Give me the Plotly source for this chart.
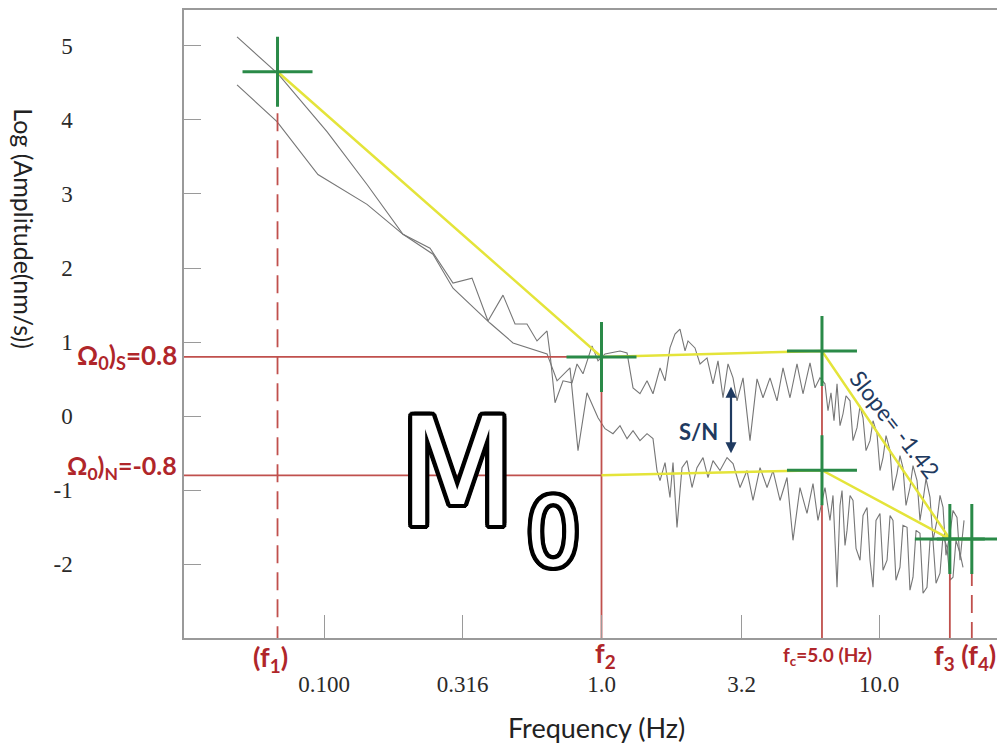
import plotly.graph_objects as go

# ---------------- data ----------------
# Signal spectrum (upper gray curve): frequency (Hz) and log amplitude
sig_freq = [0.0486, 0.0683, 0.1025, 0.1429, 0.1926, 0.2410, 0.2917, 0.3415, 0.3899, 0.4416,
            0.4880, 0.5388, 0.5855, 0.6364, 0.6524, 0.6801, 0.7267, 0.7829, 0.8161, 0.8577,
            0.9243, 0.9714, 1.0295, 1.166, 1.236, 1.299, 1.376, 1.459, 1.533, 1.625,
            1.694, 1.765, 1.840, 1.918, 2.000, 2.050, 2.172, 2.265, 2.400, 2.522,
            2.629, 2.741, 2.857, 2.978, 3.079, 3.236, 3.429, 3.634, 3.819, 4.048,
            4.290, 4.509, 4.778, 5.064, 5.322, 5.641, 5.880, 6.128,
            6.387, 6.549, 6.714, 6.884, 7.059, 7.236, 7.418, 7.605, 7.862, 8.060,
            8.333, 8.543, 8.758, 8.979, 9.281, 9.515, 9.835, 10.08, 10.34, 10.60,
            10.96, 11.23, 11.61, 11.90, 12.20, 12.51, 12.93, 13.26, 13.71, 14.05,
            14.41, 14.77, 15.27, 15.65, 16.18, 16.59, 17.01, 17.43, 18.03, 18.48,
            19.10, 19.59, 19.91, 20.25]
sig_amp = [5.121, 4.622, 3.841, 3.128, 2.455, 2.267, 1.796, 1.863, 1.284, 1.634,
           1.244, 1.244, 1.015, 1.150, 0.840, 0.180, 0.477, 0.450, 0.705, 0.571,
           0.948, 0.746, 0.840, 0.880, 0.853, 0.382, 0.302, 0.477, 0.302, 0.652,
           0.477, 0.921, 1.109, 1.176, 0.880, 1.015, 0.921, 0.705, 0.786, 0.436,
           0.746, 0.248, 0.705, 0.517, 0.207, 0.517, -0.331, 0.503, 0.248, 0.517,
           0.207, 0.652, 0.248, 0.705, 0.302, 0.719, 0.382, 0.517,
           0.436, 0.073, 0.315, -0.062, 0.436, -0.129, 0.032, 0.275, 0.207, -0.331,
           -0.156, 0.140, -0.022, -0.466, -0.331, -0.062, -0.237, -0.735, -0.560, -0.264,
           -0.466, -1.005, -0.775, -0.533, -0.695, -1.206, -0.964, -0.668, -0.870, -1.408,
           -1.139, -0.843, -1.098, -1.677, -1.408, -1.071, -1.233, -1.879, -1.583, -1.273,
           -1.368, -1.946, -1.677, -1.408]

# Noise spectrum (lower gray curve)
noise_freq = [0.0486, 0.0677, 0.0951, 0.1429, 0.1926, 0.2471, 0.2917, 0.3964, 0.4799, 0.5664,
              0.6364, 0.6915, 0.7700, 0.8229, 0.8864, 0.9714, 1.0295, 1.100, 1.166, 1.236,
              1.299, 1.376, 1.459, 1.533, 1.585, 1.625, 1.694, 1.765, 1.810, 1.871,
              1.950, 2.033, 2.119, 2.208, 2.322, 2.420, 2.522, 2.673, 2.834, 2.978,
              3.157, 3.345, 3.515, 3.726, 3.949, 4.150, 4.398, 4.661, 4.898, 5.191,
              5.501, 5.783, 6.027, 6.387,
              6.658, 6.827, 7.059, 7.236, 7.357, 7.542, 7.669, 7.862, 8.060, 8.264,
              8.543, 8.758, 9.053, 9.281, 9.515, 9.754, 10.08, 10.34, 10.69, 10.96,
              11.23, 11.51, 11.90, 12.20, 12.62, 12.93, 13.26, 13.60, 14.05, 14.41,
              14.89, 15.27, 15.65, 16.05, 16.59, 17.01, 17.58, 18.03, 18.48, 18.94,
              19.59, 20.08]
noise_amp = [4.474, 3.976, 3.263, 2.859, 2.455, 2.186, 1.728, 1.257, 0.988, 0.907,
             0.840, 0.477, 0.652, -0.466, 0.315, -0.022, -0.170, -0.237, -0.129, -0.304,
             -0.197, -0.331, -0.237, -0.304, -0.735, -0.870, -0.627, -1.098, -0.627, -1.502,
             -0.695, -0.600, -0.964, -0.695, -0.560, -0.829, -0.600, -0.735, -0.560, -0.641,
             -0.964, -0.735, -1.139, -0.695, -0.964, -0.735, -1.139, -0.829, -1.677, -0.964,
             -1.314, -0.910, -1.408, -0.964,
             -1.408, -1.071, -2.310, -1.206, -1.005, -1.745, -1.543, -1.071, -1.139, -1.785,
             -1.946, -1.341, -1.233, -1.946, -2.310, -1.408, -1.314, -2.081, -1.946, -1.341,
             -1.408, -2.216, -2.041, -1.475, -1.502, -2.350, -2.175, -1.543, -1.583, -2.391,
             -2.310, -1.677, -1.677, -2.256, -2.121, -1.610, -1.771, -2.216, -2.175, -1.677,
             -1.852, -2.041]

# Axis ticks
xtick_vals = [0.1, 0.316, 1.0, 3.2, 10.0]
xtick_text = ["0.100", "0.316", "1.0", "3.2", "10.0"]
ytick_vals = [-2, -1, 0, 1, 2, 3, 4, 5]
ytick_text = ["-2", "-1", "0", "1", "2", "3", "4", "5"]

# Corner frequencies (Hz) and spectral levels (log amplitude)
f1, f2, fc, f3, f4 = 0.068, 1.0, 6.23, 18.0, 21.6
omega_s = 0.8
omega_n = -0.8
sig_fit_freq = [f1, f2, fc, f3, f4]
sig_fit_amp = [4.65, 0.8, 0.88, -1.66, -1.66]
noise_fit_freq = [f2, fc, f3]
noise_fit_amp = [-0.8, -0.73, -1.66]
cross_freq = [f1, f2, fc, fc, f3, f4]
cross_amp = [4.65, 0.8, 0.88, -0.73, -1.66, -1.66]
# tops of the red marker lines below the crosses
vline_freq = [f1, f2, fc, f3, f4]
vline_top = [4.09, 0.42, 0.42, -2.0, -2.05]
vline_dash = ["dash", "solid", "solid", "solid", "dash"]

# axis ranges (log10 Hz / log amplitude)
x_log_range = [-1.5045, 1.4288]
y_range = [-2.996, 5.484]

# ---------------- figure ----------------
GRAY = "#767676"
RED = "#c0504d"
RED_TXT = "#b0262a"
YEL = "#e4e43a"
GRN = "#2a8a48"
NAVY = "#1f3a60"
SANS = "Lato, 'Open Sans', sans-serif"

fig = go.Figure()

fig.add_trace(go.Scatter(x=sig_freq, y=sig_amp, mode="lines",
                         line=dict(color=GRAY, width=1.1)))
fig.add_trace(go.Scatter(x=noise_freq, y=noise_amp, mode="lines",
                         line=dict(color=GRAY, width=1.1)))

xmin_hz = 10 ** x_log_range[0]
# horizontal red level lines
for lvl in (omega_s, omega_n):
    fig.add_trace(go.Scatter(x=[xmin_hz, f2], y=[lvl, lvl], mode="lines",
                             line=dict(color=RED, width=1.6)))
# vertical red lines
for fx, top, dsh in zip(vline_freq, vline_top, vline_dash):
    fig.add_trace(go.Scatter(x=[fx, fx], y=[top, y_range[0]], mode="lines",
                             line=dict(color=RED, width=1.8,
                                       dash="18px,9px" if dsh == "dash" else "solid")))

# yellow fits
fig.add_trace(go.Scatter(x=sig_fit_freq, y=sig_fit_amp, mode="lines",
                         line=dict(color=YEL, width=2.5)))
fig.add_trace(go.Scatter(x=noise_fit_freq, y=noise_fit_amp, mode="lines",
                         line=dict(color=YEL, width=2.5)))

# green crosses
fig.add_trace(go.Scatter(x=cross_freq, y=cross_amp, mode="markers",
                         marker=dict(symbol="cross-thin", size=50,
                                     line=dict(color=GRN, width=3))))


def P(px, py):
    return (px - 184) / 814, (638 - py) / 630


annos = []


def txt(text, px, py, size, color, family=SANS, xanchor="center", angle=0, bold=False, **kw):
    x, y = P(px, py)
    annos.append(dict(text=text, x=x, y=y, xref="paper", yref="paper", showarrow=False,
                      xanchor=xanchor, yanchor="middle", textangle=angle,
                      font=dict(family=family, size=size, color=color,
                                weight="bold" if bold else "normal", **kw)))


# axis titles
txt("Frequency (Hz)", 596, 728, 27, "#222222")
txt("Log (Amplitude(nm/s))", 24, 227, 25, "#222222", angle=90)

# level labels
txt("Ω<sub>0</sub>)<sub>S</sub>=0.8", 179, 356, 26, RED_TXT, xanchor="right", bold=True)
txt("Ω<sub>0</sub>)<sub>N</sub>=-0.8", 179, 466, 25, RED_TXT, xanchor="right", bold=True)

# frequency labels
txt("(f<sub>1</sub>)", 270, 659, 27, RED_TXT, bold=True)
txt("f<sub>2</sub>", 605, 655, 27, RED_TXT, bold=True)
txt("f<sub>c</sub>=5.0 (Hz)", 827, 656, 19, RED_TXT, bold=True)
txt("f<sub>3</sub> (f<sub>4</sub>)", 965, 657, 27, RED_TXT, bold=True)

# S/N and slope
txt("S/N", 698, 431, 22, NAVY, bold=True)
txt("Slope= -1.42", 895, 423, 23, NAVY, angle=52)

ax_, ay_ = P(731, 386)
annos.append(dict(x=ax_, y=ay_, xref="paper", yref="paper", text="", showarrow=True,
                  ax=0, ay=68, arrowhead=2, arrowside="end+start", arrowsize=1,
                  arrowwidth=2.2, arrowcolor=NAVY))

# outlined M0
offs = [(4, 0), (-4, 0), (0, 4), (0, -4), (3, 3), (-3, 3), (3, -3), (-3, -3),
        (4, 2), (4, -2), (-4, 2), (-4, -2), (2, 4), (-2, 4), (2, -4), (-2, -4)]
outline = ", ".join(f"{dx}px {dy}px 0 #000" for dx, dy in offs)
MFONT = "'Liberation Sans Narrow', 'DejaVu Sans Condensed', 'Liberation Sans', Arial, sans-serif"
txt("M", 457, 472, 150, "#ffffff", family=MFONT, shadow=outline)
txt("0", 553, 533, 95, "#ffffff", family=MFONT, shadow=outline)

axis_common = dict(showgrid=False, zeroline=False, ticks="inside", tickcolor="#9a9a9a",
                   linecolor="#9a9a9a", linewidth=1.5, mirror=True, showline=True,
                   tickfont=dict(family="'Liberation Serif', 'Times New Roman', serif",
                                 size=23, color="#2a2a2a"))

# the page body adds an 8 px offset, so the figure is 8 px smaller than the window
fig.update_layout(
    width=997, height=739,
    margin=dict(l=176, r=7, t=0, b=109),
    paper_bgcolor="white", plot_bgcolor="white",
    showlegend=False,
    annotations=annos,
    xaxis=dict(type="log", range=x_log_range, tickvals=xtick_vals, ticktext=xtick_text,
               ticklen=23, ticklabelstandoff=25, **axis_common),
    yaxis=dict(range=y_range, tickvals=ytick_vals, ticktext=ytick_text,
               ticklen=17, ticklabelstandoff=105, **axis_common),
)

fig.write_html("out.html")
